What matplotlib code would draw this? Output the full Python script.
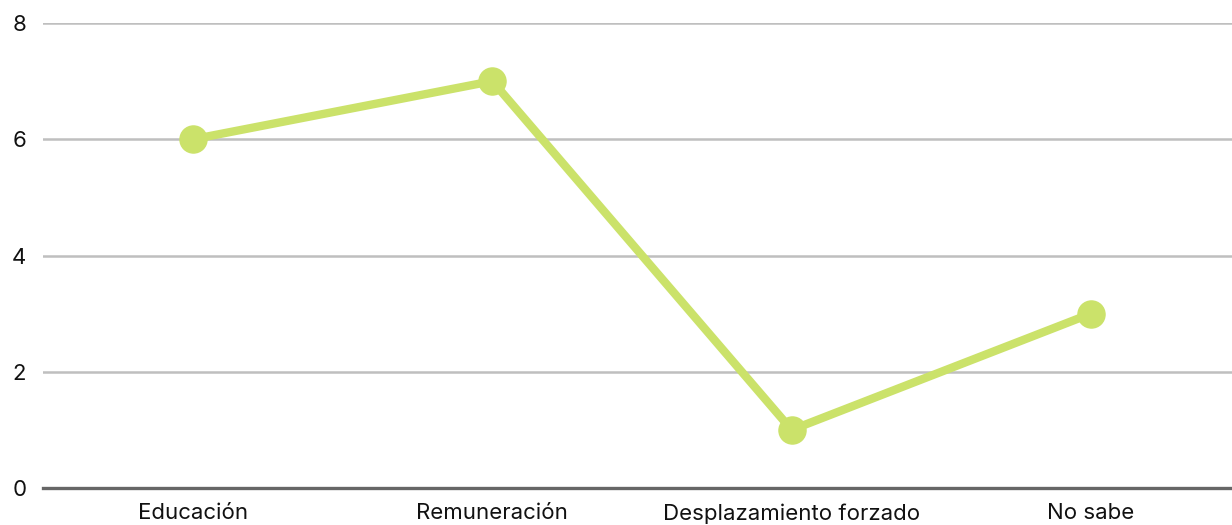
import matplotlib
matplotlib.use("Agg")
import matplotlib.pyplot as plt

categories = ["Educación", "Remuneración", "Desplazamiento forzado", "No sabe"]
values = [6, 7, 1, 3]
yticks = [0, 2, 4, 6, 8]

plt.rcParams['font.family'] = ['Inter', 'DejaVu Sans']

fig = plt.figure(figsize=(12.32, 5.25), dpi=100)
ax = fig.add_axes([43/1232, 37/525, 1 - 43/1232, 465/525])

x = list(range(len(categories)))
ax.plot(x, values, color="#cbe26a", linewidth=6, marker="o", markersize=19.5,
        solid_capstyle="round", zorder=3, clip_on=False)

ax.set_xlim(-0.501, 3.471)
ax.set_ylim(0, 8)
ax.set_yticks(yticks)
ax.set_yticklabels([str(t) for t in yticks])
ax.set_xticks(x)
ax.set_xticklabels(categories)

for t in yticks[1:]:
    ax.axhline(t, color="#bfbfbf", linewidth=1.8, zorder=1)

for s in ["top", "right", "left"]:
    ax.spines[s].set_visible(False)
ax.spines["bottom"].set_color("#666666")
ax.spines["bottom"].set_linewidth(2.4)
ax.spines["bottom"].set_zorder(2)

ax.tick_params(axis="both", length=0, labelsize=16, colors="#111111")
ax.tick_params(axis="y", pad=12)
ax.tick_params(axis="x", pad=11)

fig.savefig("out.png", dpi=100, facecolor="white")
